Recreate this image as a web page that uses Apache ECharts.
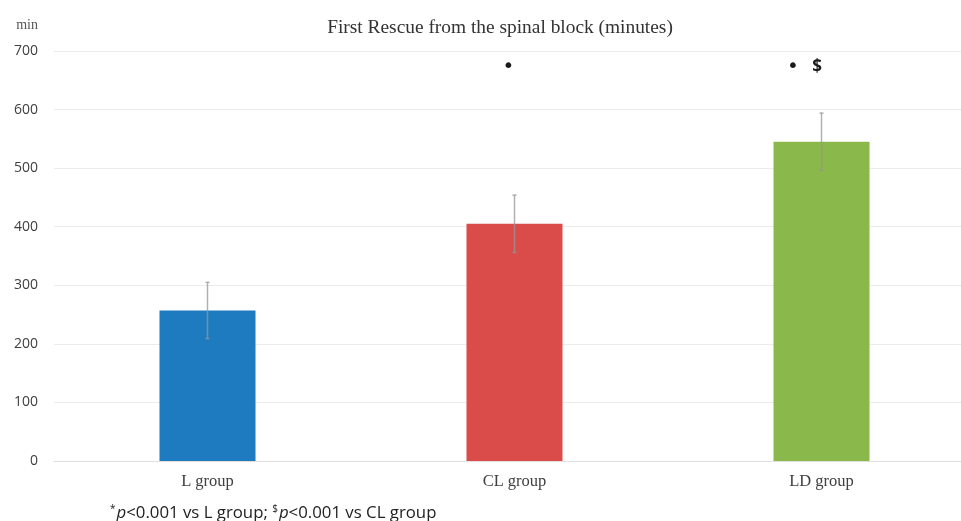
<!DOCTYPE html>
<html>
<head>
<meta charset="utf-8">
<script src="https://cdn.jsdelivr.net/npm/echarts@6/dist/echarts.min.js"></script>
<style>
  html, body { margin: 0; padding: 0; background: #fff; }
  #chart { width: 961px; height: 521px; }
</style>
</head>
<body>
<div id="chart"></div>
<script>
// Time to first rescue analgesia, mean ± SD (minutes)
const groups = ['L group', 'CL group', 'LD group'];
const meanMinutes = [257, 405, 545];
const sdMinutes = [48, 49, 49];
const significance = ['', '*', '* $'];
const barColors = ['#1f7bc0', '#d94c4a', '#8bb84a'];
const yTicks = [0, 100, 200, 300, 400, 500, 600, 700];

// horizontal nudge (px) of each significance mark relative to its bar centre
const markShift = [0, -6, -17];

const chart = echarts.init(document.getElementById('chart'));

const errorData = groups.map((g, i) => [i, meanMinutes[i] - sdMinutes[i], meanMinutes[i] + sdMinutes[i]]);
const sigData = groups.map((g, i) => [i, 676]);

chart.setOption({
  animation: false,
  title: {
    text: 'First Rescue from the spinal block (minutes)',
    left: 495,
    textAlign: 'center',
    top: 13,
    textStyle: { fontFamily: 'Liberation Serif', fontWeight: 'normal', fontSize: 19.4, color: '#333' }
  },
  // the plot runs past the right edge of the canvas
  grid: { left: 54, width: 921, top: 51, bottom: 60, outerBoundsMode: 'none', containLabel: false },
  xAxis: {
    type: 'category',
    data: groups,
    axisLine: { lineStyle: { color: '#e0e0e0', width: 1 } },
    axisTick: { show: false },
    axisLabel: { fontFamily: 'Liberation Serif', fontSize: 16.5, color: '#404040', margin: 12 }
  },
  yAxis: {
    type: 'value',
    min: yTicks[0],
    max: yTicks[yTicks.length - 1],
    interval: 100,
    name: 'min',
    nameLocation: 'end',
    nameGap: 19,
    nameTextStyle: { fontFamily: 'Liberation Serif', fontSize: 14, color: '#555', align: 'right', padding: [0, 16, 0, 0] },
    axisLine: { show: false },
    axisTick: { show: false },
    axisLabel: { fontFamily: 'Open Sans', fontSize: 14, color: '#404040', margin: 16 },
    splitLine: { lineStyle: { color: '#ebebeb', width: 1 } }
  },
  series: [
    {
      type: 'bar',
      barWidth: 96,
      data: meanMinutes.map((v, i) => ({ value: v, itemStyle: { color: barColors[i] } })),
      z: 2
    },
    {
      type: 'custom',
      z: 3,
      data: errorData,
      renderItem: function (params, api) {
        const x = api.coord([api.value(0), 0])[0];
        const lo = api.coord([api.value(0), api.value(1)])[1];
        const hi = api.coord([api.value(0), api.value(2)])[1];
        const style = { stroke: 'rgba(150,150,150,0.75)', lineWidth: 1.5 };
        return {
          type: 'group',
          children: [
            { type: 'line', shape: { x1: x, y1: lo, x2: x, y2: hi }, style: style },
            { type: 'line', shape: { x1: x - 2, y1: hi, x2: x + 2, y2: hi }, style: style },
            { type: 'line', shape: { x1: x - 2, y1: lo, x2: x + 2, y2: lo }, style: style }
          ]
        };
      }
    },
    {
      type: 'custom',
      z: 4,
      data: sigData,
      renderItem: function (params, api) {
        const p = api.coord([api.value(0), api.value(1)]);
        // asterisks are printed as heavy dots above the bars
        const txt = significance[params.dataIndex].replace(/\*/g, '{dot|\u2022}').replace(' ', '   ');
        return {
          type: 'text',
          x: p[0] + markShift[params.dataIndex],
          y: p[1] + 2,
          style: {
            text: txt,
            fontFamily: 'Open Sans',
            fontSize: 17,
            fontWeight: 'bold',
            fill: '#1a1a1a',
            align: 'center',
            verticalAlign: 'middle',
            rich: {
              dot: { fontFamily: 'DejaVu Sans', fontSize: 20, fill: '#1a1a1a' }
            }
          }
        };
      }
    }
  ],
  graphic: [
    {
      type: 'text',
      left: 110,
      top: 504,
      style: {
        text: '{sup|*}{it|p}{n|<0.001 vs L group; }{sup|$}{it|p}{n|<0.001 vs CL group}',
        rich: {
          n: { fontFamily: 'Open Sans', fontSize: 16.8, fill: '#222' },
          it: { fontFamily: 'Open Sans', fontStyle: 'italic', fontSize: 16.8, fill: '#222' },
          sup: { fontFamily: 'Open Sans', fontSize: 10, fill: '#222', verticalAlign: 'top', padding: [0, 1, 8, 0] }
        }
      }
    }
  ]
});
</script>
</body>
</html>
